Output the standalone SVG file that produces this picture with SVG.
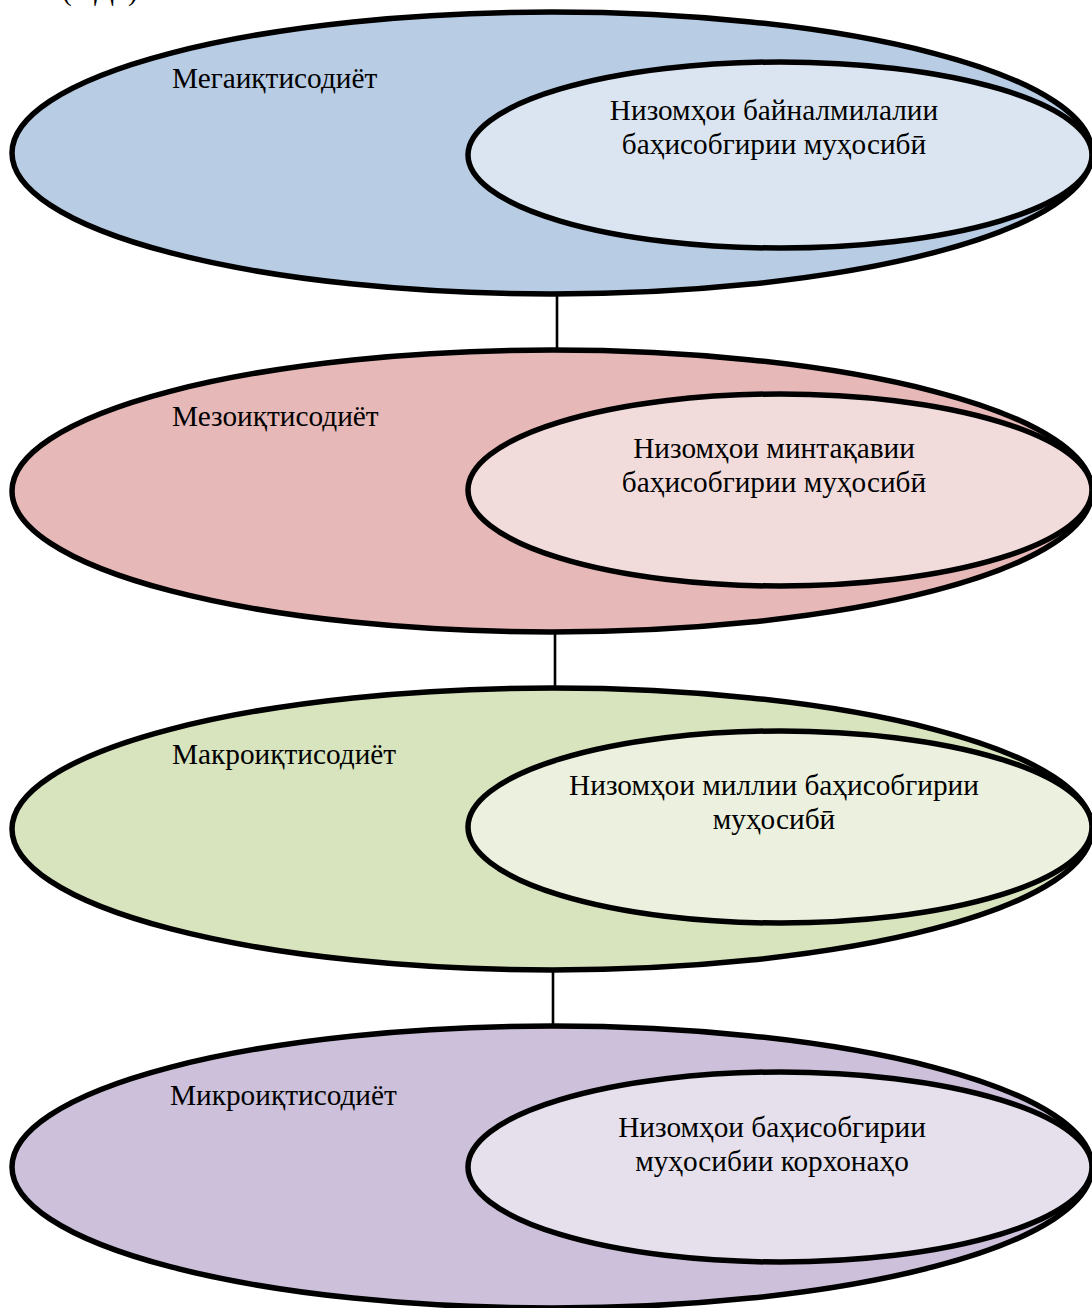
<svg xmlns="http://www.w3.org/2000/svg" width="1092" height="1308" viewBox="0 0 1092 1308">
  <style>
    .outer { stroke: #000; stroke-width: 5.5; }
    .inner { stroke: #000; stroke-width: 5.5; }
    .lbl { font-family: "Liberation Serif", "Times New Roman", serif; font-size: 29.3px; fill: #000; }
    .mid { text-anchor: middle; }
    .link { stroke: #000; stroke-width: 2.6; fill: none; }
  </style>
  <rect width="1092" height="1308" fill="#fff"/>

  <!-- caption line, mostly above the page edge -->
  <text class="lbl" x="62 94 128" y="0">(Д)</text>

  <!-- connectors between the levels -->
  <g id="connectors">
    <line class="link" x1="557" y1="295" x2="557" y2="350"/>
    <line class="link" x1="555" y1="633" x2="555" y2="688"/>
    <line class="link" x1="553" y1="971" x2="553" y2="1026"/>
  </g>

  <!-- level 1 -->
  <g id="mega">
    <ellipse class="outer" cx="552" cy="153" rx="540" ry="141" fill="#B8CCE4"/>
    <ellipse class="inner" cx="780" cy="155" rx="312" ry="93" fill="#DBE5F1"/>
    <text class="lbl" x="172" y="88">Мегаиқтисодиёт</text>
    <text class="lbl mid" x="774" y="120">Низомҳои байналмилалии</text>
    <text class="lbl mid" x="774" y="154">баҳисобгирии муҳосибӣ</text>
  </g>

  <!-- level 2 -->
  <g id="meso">
    <ellipse class="outer" cx="552" cy="491" rx="540" ry="141" fill="#E6B8B7"/>
    <ellipse class="inner" cx="780" cy="490" rx="312" ry="96" fill="#F2DCDB"/>
    <text class="lbl" x="172" y="426">Мезоиқтисодиёт</text>
    <text class="lbl mid" x="774" y="458">Низомҳои минтақавии</text>
    <text class="lbl mid" x="774" y="492">баҳисобгирии муҳосибӣ</text>
  </g>

  <!-- level 3 -->
  <g id="macro">
    <ellipse class="outer" cx="552" cy="829" rx="540" ry="141" fill="#D7E4BD"/>
    <ellipse class="inner" cx="780" cy="827" rx="312" ry="96" fill="#EBF1DE"/>
    <text class="lbl" x="172" y="764">Макроиқтисодиёт</text>
    <text class="lbl mid" x="774" y="795">Низомҳои миллии баҳисобгирии</text>
    <text class="lbl mid" x="774" y="829">муҳосибӣ</text>
  </g>

  <!-- level 4 -->
  <g id="micro">
    <ellipse class="outer" cx="552" cy="1167" rx="540" ry="141" fill="#CCC0DA"/>
    <ellipse class="inner" cx="780" cy="1167" rx="312" ry="95" fill="#E5E0EC"/>
    <text class="lbl" x="170" y="1105">Микроиқтисодиёт</text>
    <text class="lbl mid" x="772" y="1137">Низомҳои баҳисобгирии</text>
    <text class="lbl mid" x="772" y="1171">муҳосибии корхонаҳо</text>
  </g>
</svg>
